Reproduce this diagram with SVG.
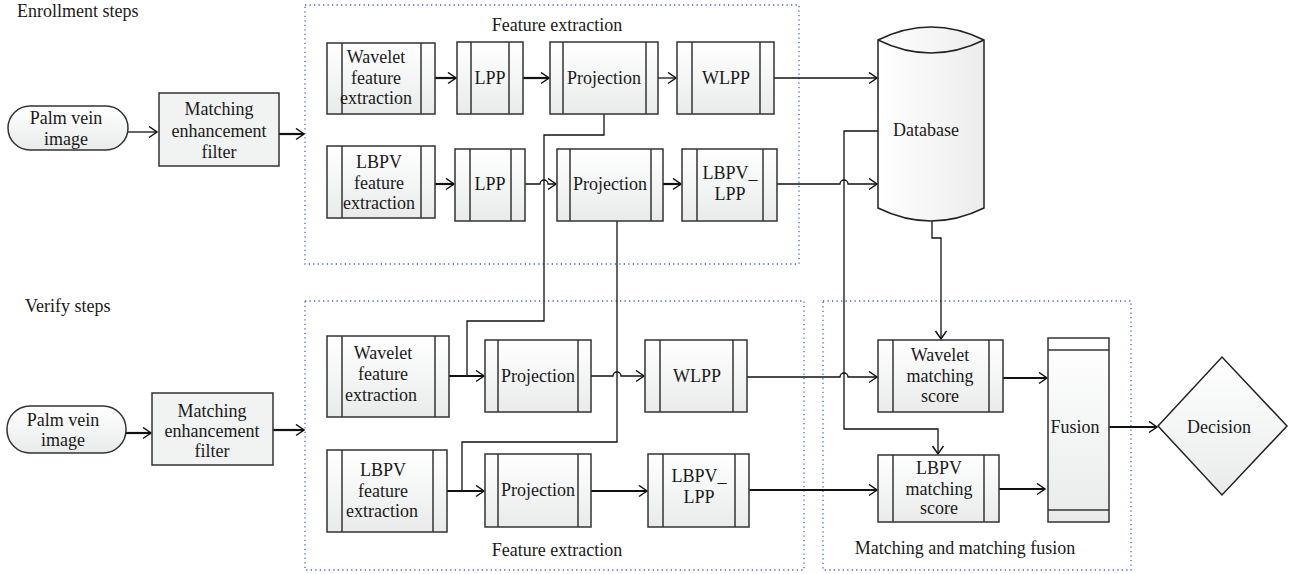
<svg xmlns="http://www.w3.org/2000/svg" width="1289" height="574" viewBox="0 0 1289 574">
<defs>
<linearGradient id="g" x1="0" y1="0" x2="0" y2="1"><stop offset="0" stop-color="#ffffff"/><stop offset="1" stop-color="#e9ebeb"/></linearGradient>
<linearGradient id="gh" x1="0" y1="0" x2="1" y2="0"><stop offset="0" stop-color="#ffffff"/><stop offset="1" stop-color="#ececec"/></linearGradient>
<marker id="ar" markerUnits="userSpaceOnUse" markerWidth="12" markerHeight="14" refX="9" refY="6" orient="auto"><path d="M1,0.5 L9,6 L1,11.5" fill="none" stroke="#111" stroke-width="1.5"/></marker>
<style>
text{font-family:'Liberation Serif','DejaVu Serif',serif;font-size:18px;fill:#1a1a1a}
.t{text-anchor:middle}
.b{fill:url(#g);stroke:#333;stroke-width:1.5}
.f{fill:#f1f2f2;stroke:#333;stroke-width:1.5}
.l{stroke:#333;stroke-width:1.5}
.d{fill:none;stroke:#4a62c4;stroke-width:1.3;stroke-dasharray:1.3 3.2}
.c{fill:none;stroke:#111;stroke-width:1.3}
.k{fill:none;stroke:#111;stroke-width:2.2}
</style>
</defs>
<rect width="1289" height="574" fill="#fff"/>
<g id="labels" font-family="Liberation Serif, serif">
<text x="17" y="17">Enrollment steps</text>
<text x="25" y="312">Verify steps</text>
</g>
<g id="groups" font-family="Liberation Serif, serif">
<rect class="d" x="305" y="5" width="494" height="259"/>
<text class="t" x="557" y="31">Feature extraction</text>
<rect class="d" x="305" y="301" width="499" height="269"/>
<text class="t" x="557" y="556">Feature extraction</text>
<rect class="d" x="823" y="301" width="308" height="269"/>
<text class="t" x="965" y="554">Matching and matching fusion</text>
</g>
<g id="connectors">
<path class="c" d="M128,132 H157" marker-end="url(#ar)"/>
<path class="k" d="M279,134 H304" marker-end="url(#ar)"/>
<path class="k" d="M435,78 H456" marker-end="url(#ar)"/>
<path class="k" d="M523,78 H549" marker-end="url(#ar)"/>
<path class="c" d="M658,78 H676" marker-end="url(#ar)"/>
<path class="c" d="M774,78 H877" marker-end="url(#ar)"/>
<path class="k" d="M435,184 H454" marker-end="url(#ar)"/>
<path class="c" d="M525,184 H540 a4,4 0 0 1 8,0 H556" marker-end="url(#ar)"/>
<path class="k" d="M663,184 H681" marker-end="url(#ar)"/>
<path class="c" d="M777,184 H840 a4,4 0 0 1 8,0 H877" marker-end="url(#ar)"/>
<path class="c" d="M604,114 V135 H544 V321 H467 V376"/>
<path class="c" d="M617,221 V442 H462 V491"/>
<path class="c" d="M878,131 H844 V429 H938 V454" marker-end="url(#ar)"/>
<path class="c" d="M932,221 V238 H941 V339" marker-end="url(#ar)"/>
<path class="k" d="M126,433 H151" marker-end="url(#ar)"/>
<path class="k" d="M273,430 H304" marker-end="url(#ar)"/>
<path class="k" d="M449,376 H484" marker-end="url(#ar)"/>
<path class="c" d="M591,376 H613 a4,4 0 0 1 8,0 H644" marker-end="url(#ar)"/>
<path class="c" d="M747,377 H840 a4,4 0 0 1 8,0 H877" marker-end="url(#ar)"/>
<path class="k" d="M447,491 H484" marker-end="url(#ar)"/>
<path class="k" d="M591,491 H647" marker-end="url(#ar)"/>
<path class="k" d="M749,490 H877" marker-end="url(#ar)"/>
<path class="k" d="M1003,378 H1047" marker-end="url(#ar)"/>
<path class="k" d="M999,489 H1045" marker-end="url(#ar)"/>
<path class="k" d="M1109,427 H1157" marker-end="url(#ar)"/>
</g>
<g id="palm1"><rect class="b" x="8" y="106" width="120" height="44" rx="22"/><text class="t" x="66" y="124">Palm vein</text><text class="t" x="66" y="145">image</text></g>
<g id="filter1"><rect class="f" x="159" y="93" width="120" height="73"/><text class="t" x="219" y="115">Matching</text><text class="t" x="219" y="137">enhancement</text><text class="t" x="219" y="158">filter</text></g>
<g id="wfe1"><rect class="b" x="327" y="43" width="108" height="71"/><line class="l" x1="342" y1="43" x2="342" y2="114"/><line class="l" x1="421" y1="43" x2="421" y2="114"/><text class="t" x="376" y="63">Wavelet</text><text class="t" x="376" y="84">feature</text><text class="t" x="376" y="104">extraction</text></g>
<g id="lpp1"><rect class="b" x="457" y="42" width="66" height="72"/><line class="l" x1="471" y1="42" x2="471" y2="114"/><line class="l" x1="509" y1="42" x2="509" y2="114"/><text class="t" x="490" y="84">LPP</text></g>
<g id="proj1"><rect class="b" x="550" y="42" width="108" height="72"/><line class="l" x1="563" y1="42" x2="563" y2="114"/><line class="l" x1="646" y1="42" x2="646" y2="114"/><text class="t" x="604" y="84">Projection</text></g>
<g id="wlpp1"><rect class="b" x="677" y="42" width="97" height="72"/><line class="l" x1="692" y1="42" x2="692" y2="114"/><line class="l" x1="760" y1="42" x2="760" y2="114"/><text class="t" x="726" y="84">WLPP</text></g>
<g id="lfe1"><rect class="b" x="327" y="146" width="108" height="72"/><line class="l" x1="342" y1="146" x2="342" y2="218"/><line class="l" x1="421" y1="146" x2="421" y2="218"/><text class="t" x="379" y="168">LBPV</text><text class="t" x="379" y="189">feature</text><text class="t" x="379" y="209">extraction</text></g>
<g id="lpp2"><rect class="b" x="455" y="149" width="70" height="72"/><line class="l" x1="470" y1="149" x2="470" y2="221"/><line class="l" x1="511" y1="149" x2="511" y2="221"/><text class="t" x="490" y="190">LPP</text></g>
<g id="proj2"><rect class="b" x="557" y="149" width="106" height="72"/><line class="l" x1="570" y1="149" x2="570" y2="221"/><line class="l" x1="651" y1="149" x2="651" y2="221"/><text class="t" x="610" y="190">Projection</text></g>
<g id="llpp1"><rect class="b" x="682" y="149" width="95" height="72"/><line class="l" x1="697" y1="149" x2="697" y2="221"/><line class="l" x1="763" y1="149" x2="763" y2="221"/><text class="t" x="730" y="179">LBPV_</text><text class="t" x="730" y="200">LPP</text></g>
<g id="database"><path d="M878,40 Q931,14 984,40 V208 Q931,234 878,208 Z" fill="url(#gh)" stroke="#222" stroke-width="1.5"/><path d="M878,40 Q931,66 984,40" fill="none" stroke="#222" stroke-width="1.5"/><text class="t" x="926" y="136">Database</text></g>
<g id="palm2"><rect class="b" x="7" y="406" width="119" height="47" rx="23"/><text class="t" x="63" y="426">Palm vein</text><text class="t" x="63" y="446">image</text></g>
<g id="filter2"><rect class="f" x="152" y="393" width="121" height="72"/><text class="t" x="212" y="417">Matching</text><text class="t" x="212" y="437">enhancement</text><text class="t" x="212" y="457">filter</text></g>
<g id="wfe2"><rect class="b" x="327" y="336" width="122" height="81"/><line class="l" x1="342" y1="336" x2="342" y2="417"/><line class="l" x1="435" y1="336" x2="435" y2="417"/><text class="t" x="383" y="359">Wavelet</text><text class="t" x="383" y="380">feature</text><text class="t" x="381" y="401">extraction</text></g>
<g id="proj3"><rect class="b" x="485" y="340" width="106" height="72"/><line class="l" x1="498" y1="340" x2="498" y2="412"/><line class="l" x1="578" y1="340" x2="578" y2="412"/><text class="t" x="538" y="382">Projection</text></g>
<g id="wlpp2"><rect class="b" x="645" y="340" width="102" height="72"/><line class="l" x1="660" y1="340" x2="660" y2="412"/><line class="l" x1="733" y1="340" x2="733" y2="412"/><text class="t" x="697" y="382">WLPP</text></g>
<g id="lfe2"><rect class="b" x="327" y="450" width="120" height="82"/><line class="l" x1="342" y1="450" x2="342" y2="532"/><line class="l" x1="433" y1="450" x2="433" y2="532"/><text class="t" x="383" y="476">LBPV</text><text class="t" x="383" y="497">feature</text><text class="t" x="382" y="517">extraction</text></g>
<g id="proj4"><rect class="b" x="485" y="454" width="106" height="73"/><line class="l" x1="498" y1="454" x2="498" y2="527"/><line class="l" x1="578" y1="454" x2="578" y2="527"/><text class="t" x="538" y="496">Projection</text></g>
<g id="llpp2"><rect class="b" x="648" y="454" width="101" height="73"/><line class="l" x1="663" y1="454" x2="663" y2="527"/><line class="l" x1="735" y1="454" x2="735" y2="527"/><text class="t" x="699" y="482">LBPV_</text><text class="t" x="699" y="503">LPP</text></g>
<g id="wms"><rect class="b" x="878" y="340" width="125" height="72"/><line class="l" x1="893" y1="340" x2="893" y2="412"/><line class="l" x1="989" y1="340" x2="989" y2="412"/><text class="t" x="940" y="361">Wavelet</text><text class="t" x="940" y="382">matching</text><text class="t" x="940" y="402">score</text></g>
<g id="lms"><rect class="b" x="878" y="455" width="121" height="67"/><line class="l" x1="893" y1="455" x2="893" y2="522"/><line class="l" x1="984" y1="455" x2="984" y2="522"/><text class="t" x="939" y="474">LBPV</text><text class="t" x="939" y="495">matching</text><text class="t" x="939" y="514">score</text></g>
<g id="fusion"><rect class="b" x="1048" y="338" width="61" height="184"/><line class="l" x1="1048" y1="350" x2="1109" y2="350"/><line class="l" x1="1048" y1="510" x2="1109" y2="510"/><text class="t" x="1075" y="433">Fusion</text></g>
<g id="decision"><polygon points="1158,426 1222,357 1287,426 1222,495" fill="url(#g)" stroke="#222" stroke-width="1.5"/><text class="t" x="1219" y="433">Decision</text></g>
</svg>
